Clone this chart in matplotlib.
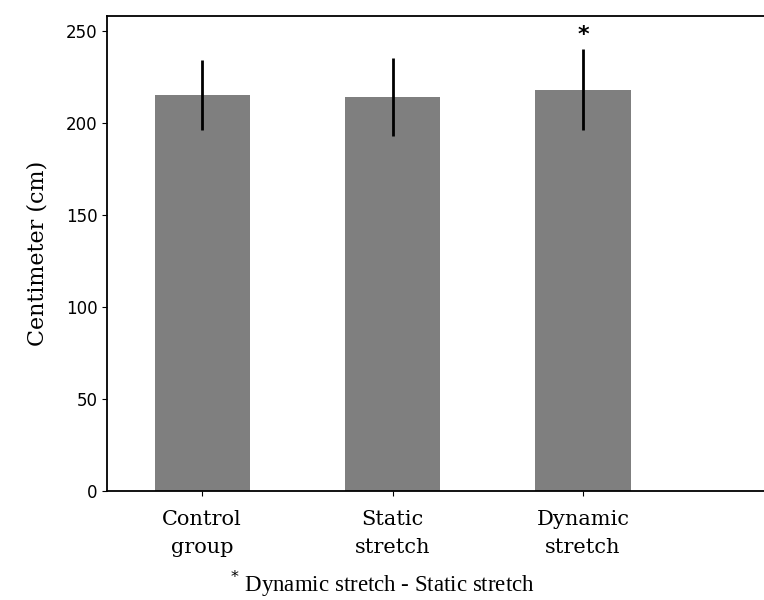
import matplotlib
matplotlib.use("Agg")
import matplotlib.pyplot as plt

groups = ["Control\ngroup", "Static\nstretch", "Dynamic\nstretch"]
means = [215, 214, 218]
sds = [19, 21, 22]
marks = ["", "", "*"]
note = "$^{*}$ Dynamic stretch - Static stretch"

fig = plt.figure(figsize=(7.64, 6.0), dpi=100)
ax = fig.add_axes([107 / 764, 1 - 491 / 600, 1 - 107 / 764, (491 - 16) / 600])

x = range(len(groups))
ax.bar(x, means, width=0.5, color="#7f7f7f", yerr=sds,
       error_kw=dict(ecolor="black", elinewidth=2, capsize=0))
for i, m in enumerate(marks):
    if m:
        ax.text(i, means[i] + sds[i] + 2, m, ha="center", va="bottom",
                fontsize=16, fontweight="bold")

ax.set_xlim(-0.5, 2.95)
ax.set_ylim(0, 258)
ax.set_yticks([0, 50, 100, 150, 200, 250])
ax.tick_params(axis="y", labelsize=12)
ax.set_xticks(list(x))
ax.set_xticklabels(groups, family="DejaVu Serif", fontsize=15, linespacing=1.6)
ax.tick_params(axis="x", pad=10)
ax.set_ylabel("Centimeter (cm)", family="DejaVu Serif", fontsize=16, labelpad=12)
ax.spines["right"].set_visible(False)
for s in ("left", "top", "bottom"):
    ax.spines[s].set_linewidth(1.3)

fig.text(382 / 764, 1 - 584 / 600, note, ha="center", va="center",
         family="Liberation Serif", fontsize=16.5)

fig.savefig("out.png", dpi=100)
